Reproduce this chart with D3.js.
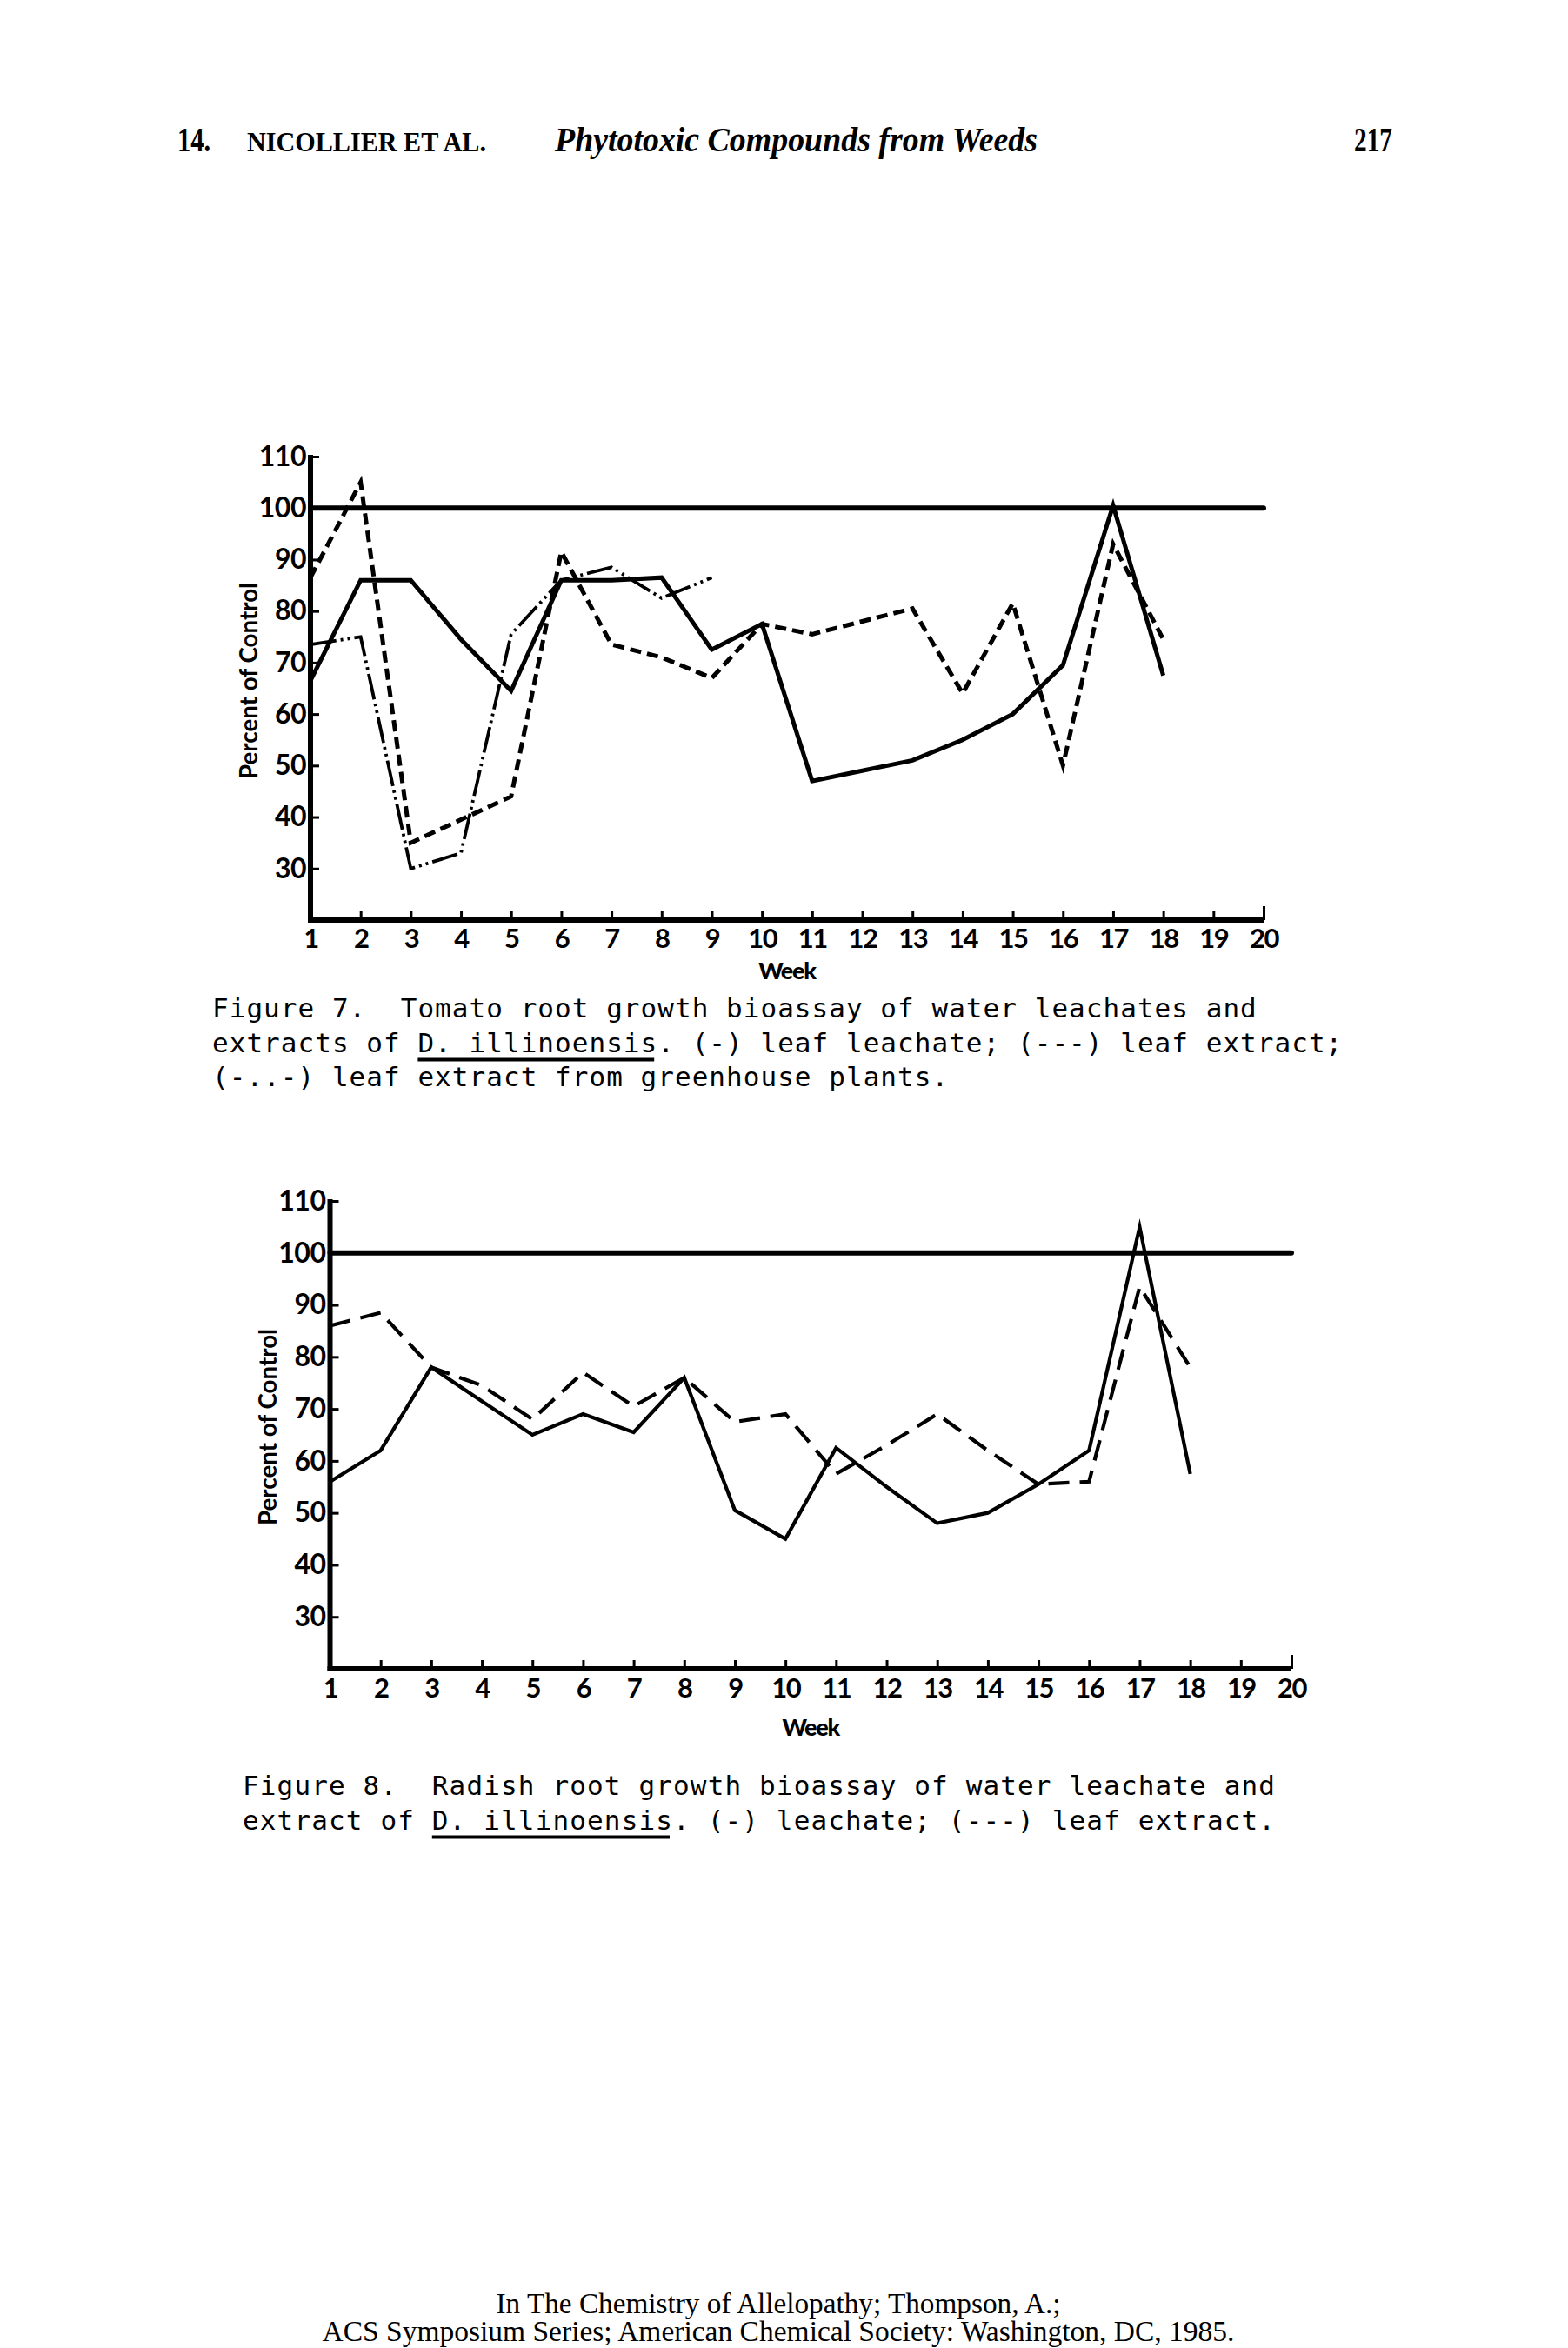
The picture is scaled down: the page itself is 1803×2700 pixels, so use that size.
<!DOCTYPE html>
<html>
<head>
<meta charset="utf-8">
<script src="https://cdn.jsdelivr.net/npm/d3@7"></script>
<style>
  body { margin: 0; background: #fff; }
  svg { display: block; }
</style>
</head>
<body>
<svg id="page" width="1803" height="2700"></svg>
<script>
// ---------------- DATA ----------------
const weekTicks = [1,2,3,4,5,6,7,8,9,10,11,12,13,14,15,16,17,18,19,20];
const percentTicks = [30,40,50,60,70,80,90,100,110];
const controlLevel = 100;

// Figure 7 - Tomato root growth
const fig7Weeks = [1,2,3,4,5,6,7,8,9,10,11,12,13,14,15,16,17,18];
const fig7LeafLeachate = [66.5,86,86,74.5,64.5,86,86,86.5,72.5,77.5,47,49,51,55,60,69.5,100.5,67.5];
const fig7LeafExtract  = [86.5,105,35,39.5,44,91.5,73.5,71,67,77.5,75.5,78,80.5,64,81.5,50,93,74.5];
const fig7GreenhouseWeeks = [1,2,3,4,5,6,7,8,9];
const fig7Greenhouse   = [73.5,75,30,33,75.5,86,88.5,82.5,86.5];

// Figure 8 - Radish root growth
const fig8Weeks = [1,2,3,4,5,6,7,8,9,10,11,12,13,14,15,16,17,18];
const fig8Leachate    = [56,62,78,71.5,65,69,65.5,76,50.5,45,62.5,55,48,50,55.5,62,105,57.5];
const fig8LeafExtract = [86,88.5,78,74.5,68,77,70.5,76,67.5,69,57.5,63,69,62,55.5,56,93.5,78];

// Text
const headerLeftNum = "14.";
const headerAuthors = "NICOLLIER ET AL.";
const headerTitle = "Phytotoxic Compounds from Weeds";
const headerPage = "217";
const yTitle = "Percent of Control";
const xTitle = "Week";
const fig7Caption = [
  ["Figure 7.  Tomato root growth bioassay of water leachates and", null],
  ["extracts of D. illinoensis. (-) leaf leachate; (---) leaf extract;", [12, 26]],
  ["(-..-) leaf extract from greenhouse plants.", null]
];
const fig8Caption = [
  ["Figure 8.  Radish root growth bioassay of water leachate and", null],
  ["extract of D. illinoensis. (-) leachate; (---) leaf extract.", [11, 25]]
];
const footerLines = [
  "In The Chemistry of Allelopathy; Thompson, A.;",
  "ACS Symposium Series; American Chemical Society: Washington, DC, 1985."
];

// ---------------- DRAWING ----------------
const svg = d3.select("#page");
svg.append("rect").attr("width", 1803).attr("height", 2700).attr("fill", "#fff");

const serif = "'Liberation Serif', 'DejaVu Serif', serif";
const sans = "Lato, 'Open Sans', 'DejaVu Sans', sans-serif";
const mono = "'DejaVu Sans Mono', 'Liberation Mono', monospace";

// Header
const hb = 174;
svg.append("text").attr("x", 204).attr("y", hb).attr("font-family", serif)
  .attr("font-weight", 700).attr("font-size", 39).attr("textLength", 38)
  .attr("lengthAdjust", "spacingAndGlyphs").text(headerLeftNum);
svg.append("text").attr("x", 284).attr("y", hb).attr("font-family", serif)
  .attr("font-weight", 700).attr("font-size", 31).attr("textLength", 275)
  .attr("lengthAdjust", "spacingAndGlyphs").text(headerAuthors);
svg.append("text").attr("x", 638).attr("y", hb).attr("font-family", serif)
  .attr("font-weight", 700).attr("font-style", "italic").attr("font-size", 41)
  .attr("textLength", 555).attr("lengthAdjust", "spacingAndGlyphs").text(headerTitle);
svg.append("text").attr("x", 1601).attr("y", hb).attr("text-anchor", "end").attr("font-family", serif)
  .attr("font-weight", 700).attr("font-size", 39).attr("textLength", 44)
  .attr("lengthAdjust", "spacingAndGlyphs").text(headerPage);

function panel(p) {
  const x = d3.scaleLinear().domain([1, 20]).range([p.x0, p.x1]);
  const y = d3.scaleLinear().domain([20, 110]).range([p.yb, p.yt]);
  const g = svg.append("g");

  // Y axis (ticks point inward)
  const ya = d3.axisLeft(y).tickValues(percentTicks).tickSize(-10).tickSizeOuter(0)
    .tickPadding(5).tickFormat(d3.format("d"));
  const yg = g.append("g").attr("transform", `translate(${p.x0},0)`).call(ya);
  yg.select(".domain").attr("stroke", "#000").attr("stroke-width", 6)
    .attr("d", `M0,${y(110) - 2}V${p.yb + 3}`);
  yg.selectAll(".tick line").attr("stroke", "#000").attr("stroke-width", 3);
  yg.selectAll(".tick text").attr("font-family", sans).attr("font-weight", 700)
    .attr("font-size", 32).attr("letter-spacing", -0.5).attr("fill", "#000");

  // X axis (ticks point up)
  const xa = d3.axisBottom(x).tickValues(weekTicks).tickSize(-10).tickSizeOuter(0)
    .tickPadding(p.xpad);
  const xg = g.append("g").attr("transform", `translate(0,${p.yb})`).call(xa);
  xg.select(".domain").attr("stroke", "#000").attr("stroke-width", 6)
    .attr("d", `M${p.x0 - 3},0H${p.x1}`);
  xg.selectAll(".tick line").attr("stroke", "#000").attr("stroke-width", 3)
    .attr("y2", d => d === 20 ? -16 : -10);
  xg.selectAll(".tick text").attr("font-family", sans).attr("font-weight", 700)
    .attr("font-size", 31).attr("letter-spacing", -1.5).attr("fill", "#000");

  // Axis titles
  g.append("text").attr("x", (p.x0 + p.x1) / 2).attr("y", p.weekY).attr("text-anchor", "middle")
    .attr("font-family", sans).attr("font-weight", 900).attr("font-size", 27)
    .attr("letter-spacing", -1.2).text(xTitle);
  g.append("text").attr("transform", `translate(${p.ytx},${p.yty}) rotate(-90)`)
    .attr("text-anchor", "middle").attr("font-family", sans).attr("font-weight", 700)
    .attr("font-size", 29).attr("textLength", 226).attr("lengthAdjust", "spacingAndGlyphs")
    .text(yTitle);

  // Control line at 100 %
  g.append("line").attr("x1", x(1)).attr("x2", x(20) + p.ctlExt)
    .attr("y1", y(controlLevel)).attr("y2", y(controlLevel))
    .attr("stroke", "#000").attr("stroke-width", 6).attr("stroke-linecap", "round");

  // Series
  p.series.forEach(s => {
    const line = d3.line().x((d, i) => x(s.weeks[i])).y(d => y(d));
    g.append("path").attr("d", line(s.values)).attr("fill", "none")
      .attr("stroke", "#000").attr("stroke-width", s.width)
      .attr("stroke-dasharray", s.dash || null)
      .attr("stroke-linejoin", "miter").attr("stroke-miterlimit", 10);
  });
}

panel({
  x0: 357, x1: 1453, yt: 525, yb: 1058, xpad: 10, weekY: 1126, ytx: 296, yty: 783, ctlExt: 0,
  series: [
    { weeks: fig7GreenhouseWeeks, values: fig7Greenhouse, width: 3.8, dash: "30,5,3,5,3,5" },
    { weeks: fig7Weeks, values: fig7LeafExtract, width: 5, dash: "13,7" },
    { weeks: fig7Weeks, values: fig7LeafLeachate, width: 5 }
  ]
});

panel({
  x0: 379.5, x1: 1485, yt: 1381, yb: 1919, xpad: 11, weekY: 1996, ytx: 318, yty: 1641, ctlExt: 0,
  series: [
    { weeks: fig8Weeks, values: fig8LeafExtract, width: 4.2, dash: "24,12" },
    { weeks: fig8Weeks, values: fig8Leachate, width: 4.2 }
  ]
});

// Captions (typewriter monospace)
function caption(lines, left, base0, adv) {
  const fs = 31;
  lines.forEach(([txt, ul], i) => {
    const yb = base0 + i * 39.5;
    svg.append("text").attr("x", left).attr("y", yb).attr("font-family", mono)
      .attr("font-size", fs).attr("letter-spacing", adv - 0.602 * fs)
      .attr("xml:space", "preserve").style("white-space", "pre").text(txt);
    if (ul) {
      svg.append("line").attr("x1", left + ul[0] * adv).attr("x2", left + ul[1] * adv - 4)
        .attr("y1", yb + 9).attr("y2", yb + 9).attr("stroke", "#000").attr("stroke-width", 4);
    }
  });
}
caption(fig7Caption, 244, 1170, 19.7);
caption(fig8Caption, 279, 2064, 19.8);

// Footer
svg.append("text").attr("x", 895).attr("y", 2660).attr("text-anchor", "middle")
  .attr("font-family", serif).attr("font-size", 33).attr("textLength", 649)
  .attr("lengthAdjust", "spacingAndGlyphs").text(footerLines[0]);
svg.append("text").attr("x", 895).attr("y", 2692).attr("text-anchor", "middle")
  .attr("font-family", serif).attr("font-size", 33).attr("textLength", 1049)
  .attr("lengthAdjust", "spacingAndGlyphs").text(footerLines[1]);
</script>
</body>
</html>
